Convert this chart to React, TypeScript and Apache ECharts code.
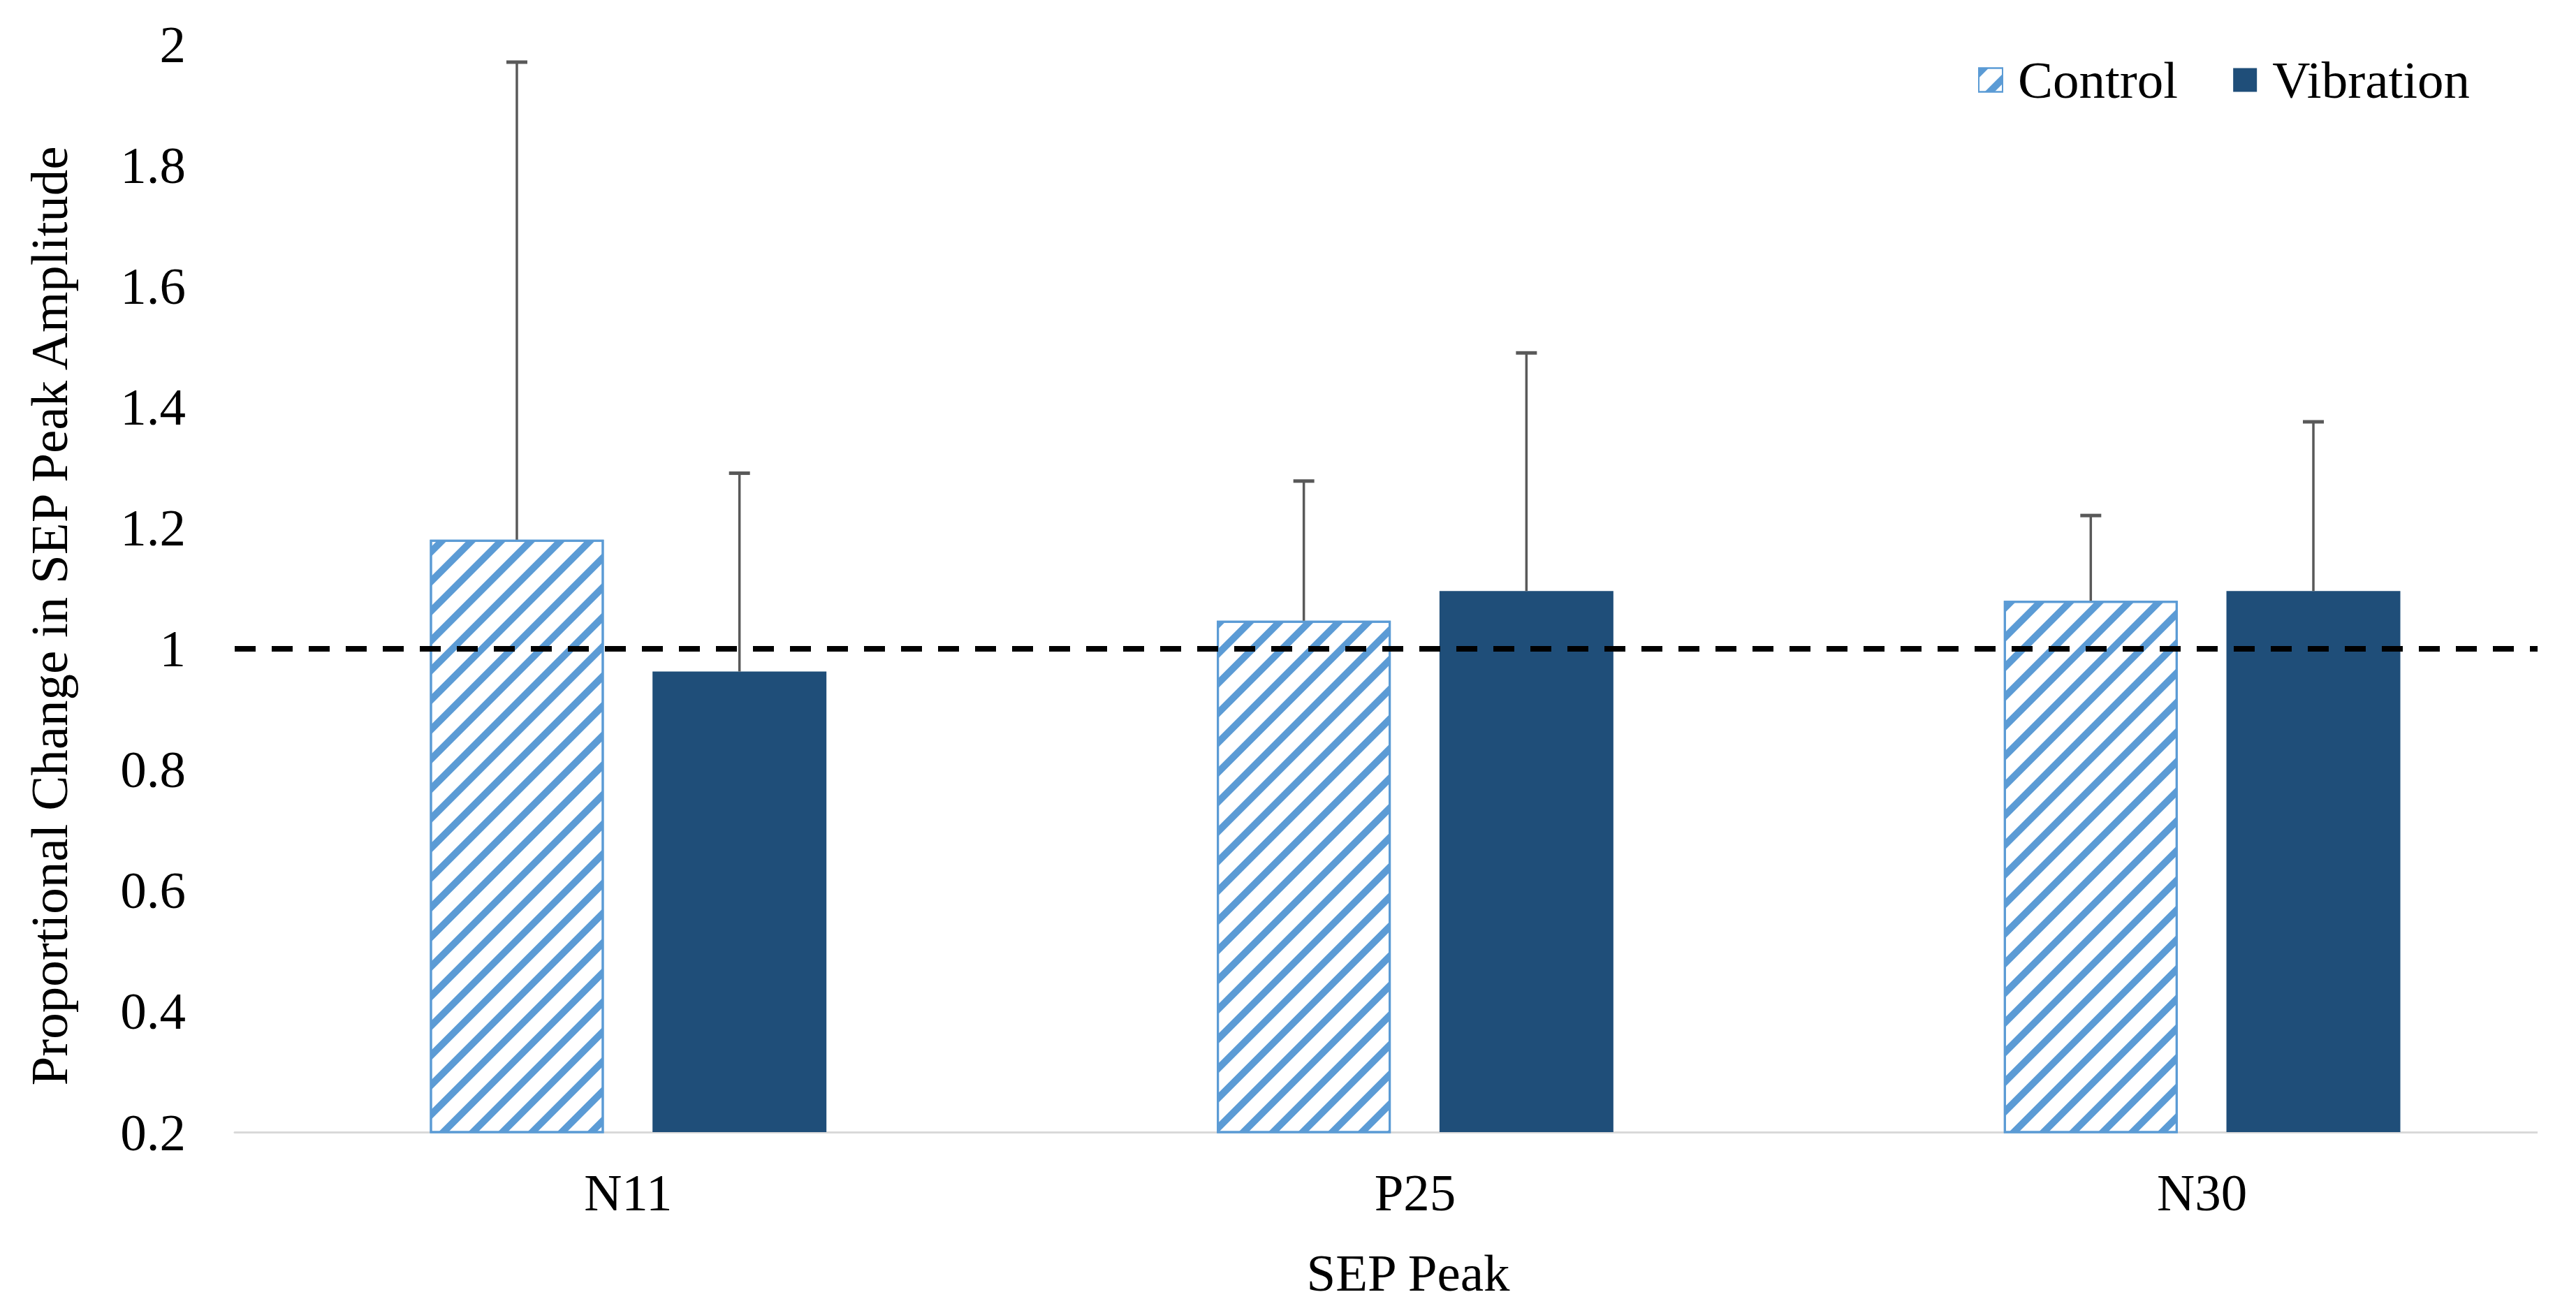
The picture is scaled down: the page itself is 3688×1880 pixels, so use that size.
import React, { useEffect, useRef } from "react";
import * as echarts from "echarts";

const categories = ["N11", "P25", "N30"];
const seriesNames = ["Control", "Vibration"];
const controlMean = [1.18, 1.046, 1.079];
const vibrationMean = [0.962, 1.095, 1.095];
const controlErrTop = [1.97, 1.277, 1.22];
const vibrationErrTop = [1.29, 1.489, 1.375];
const referenceLevel = 1;
const yTitle = "Proportional Change in SEP Peak Amplitude";
const xTitle = "SEP Peak";

const FONT = "Liberation Serif";
const BAR_W = 0.221;
const BAR_GAP = 0.28;

export default function App() {
  const ref = useRef<HTMLDivElement>(null);
  useEffect(() => {
    document.body.style.margin = "0";
    if (!ref.current) return;
    const chart = echarts.init(ref.current, undefined, { renderer: "svg" });
    const errData: number[][] = [];
    categories.forEach((_, i) => {
      errData.push([i, 0, controlMean[i], controlErrTop[i]]);
      errData.push([i, 1, vibrationMean[i], vibrationErrTop[i]]);
    });
    const option: any = {
      animation: false,
      textStyle: { fontFamily: FONT },
      grid: { left: 336, width: 3380, top: 63, bottom: 259, outerBoundsMode: "none", containLabel: false },
      legend: {
        data: seriesNames,
        left: 2827,
        top: 72,
        icon: "rect",
        itemWidth: 34,
        itemHeight: 34,
        itemGap: 79,
        textStyle: { fontSize: 75, color: "#000", fontFamily: FONT, padding: [0, 0, 0, 17] },
      },
      xAxis: {
        type: "category",
        data: categories,
        axisLine: { lineStyle: { color: "#D9D9D9", width: 3 } },
        axisTick: { show: false },
        axisLabel: { fontSize: 75, color: "#000", margin: 49, fontFamily: FONT },
        name: xTitle,
        nameLocation: "middle",
        nameGap: 164,
        nameTextStyle: { fontSize: 75, color: "#000", fontFamily: FONT, padding: [0, 20, 0, 0] },
      },
      yAxis: {
        type: "value",
        min: 0.2,
        max: 2,
        interval: 0.2,
        axisLine: { show: false },
        axisTick: { show: false },
        splitLine: { show: false },
        axisLabel: { fontSize: 75, color: "#000", margin: 70, fontFamily: FONT },
        name: yTitle,
        nameLocation: "middle",
        nameGap: 228,
        nameTextStyle: { fontSize: 75, color: "#000", fontFamily: FONT, padding: [0, 80, 0, 0] },
      },
      series: [
        {
          name: seriesNames[0],
          type: "bar",
          data: controlMean,
          barWidth: BAR_W * 100 + "%",
          barGap: BAR_GAP * 100 + "%",
          itemStyle: {
            color: "#FFFFFF",
            borderColor: "#5B9BD5",
            borderWidth: 3,
            decal: {
              symbol: "rect",
              symbolSize: 1,
              dashArrayX: [1, 0],
              dashArrayY: [10, 20],
              rotation: -Math.PI / 4,
              color: "#5B9BD5",
            },
          },
        },
        {
          name: seriesNames[1],
          type: "bar",
          data: vibrationMean,
          barWidth: BAR_W * 100 + "%",
          barGap: BAR_GAP * 100 + "%",
          itemStyle: { color: "#1F4E79" },
          markLine: {
            silent: true,
            symbol: "none",
            label: { show: false },
            lineStyle: { color: "#000", type: [30, 23], width: 8 },
            data: [{ yAxis: referenceLevel }],
          },
        },
        {
          name: "errors",
          type: "custom",
          data: errData,
          encode: { x: 0, y: [2, 3] },
          z: 5,
          renderItem: (params: any, api: any) => {
            const cat = api.value(0);
            const s = api.value(1);
            const base = api.value(2);
            const top = api.value(3);
            const band = api.size([1, 0])[0];
            const w = band * BAR_W;
            const gap = w * BAR_GAP;
            const off = (s === 0 ? -1 : 1) * (w + gap) / 2;
            const p0 = api.coord([cat, base]);
            const p1 = api.coord([cat, top]);
            const x = p0[0] + off;
            return {
              type: "group",
              children: [
                { type: "line", shape: { x1: x, y1: p0[1], x2: x, y2: p1[1] }, style: { stroke: "#595959", lineWidth: 3.5 } },
                { type: "line", shape: { x1: x - 15, y1: p1[1], x2: x + 15, y2: p1[1] }, style: { stroke: "#595959", lineWidth: 5 } },
              ],
            };
          },
        },
      ],
    };
    chart.setOption(option);
    return () => chart.dispose();
  }, []);
  return <div ref={ref} style={{ width: "3633px", height: "1880px", overflow: "hidden" }} />;
}
